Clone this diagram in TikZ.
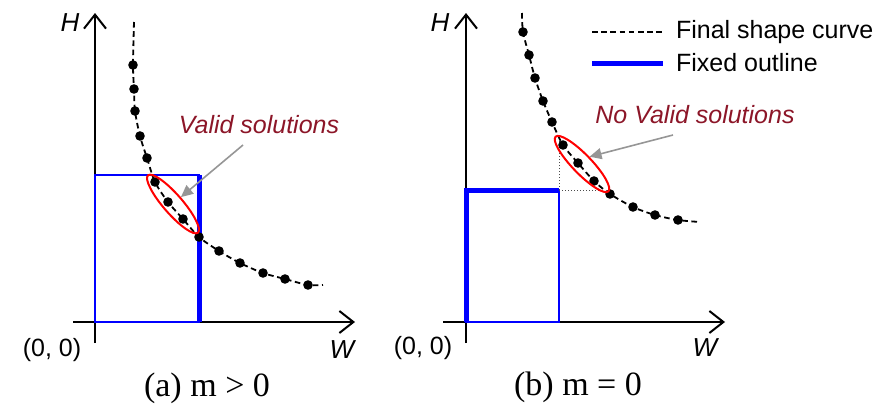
\documentclass[tikz,border=0pt]{standalone}
\usepackage{fontspec}
\setmainfont{Liberation Serif}
\setsansfont{Liberation Sans}
\usetikzlibrary{arrows.meta,shapes.geometric}
\definecolor{solred}{RGB}{140,22,40}
\definecolor{pointgray}{RGB}{150,150,150}
\begin{document}
\begin{tikzpicture}[x=0.5pt,y=0.5pt,
  axis/.style={line width=1pt,-{Straight Barb[length=7pt,width=11pt,line width=1pt]}},
  outline/.style={blue,line width=1.2pt},
  fatoutline/.style={blue,line width=2.5pt},
  shapecurve/.style={line width=0.9pt,dash pattern=on 2.8pt off 1.8pt},
  guide/.style={gray!60!black,line width=0.5pt,densely dotted},
  ring/.style={draw=red,line width=1pt,ellipse,inner sep=0pt,minimum width=38pt,minimum height=9.5pt},
  pointer/.style={pointgray,line width=0.8pt,-{Triangle[length=6pt,width=5.5pt]}},
  lbl/.style={font=\sffamily\fontsize{12.5}{15}\selectfont},
  axlbl/.style={font=\sffamily\itshape\fontsize{13}{15}\selectfont},
  note/.style={font=\sffamily\itshape\fontsize{12.5}{15}\selectfont,text=solred},
  subcap/.style={font=\fontsize{17}{20}\selectfont}]
  \useasboundingbox (0,0) rectangle (879,403);

  % (a) m > 0 : outline cuts the curve, solutions exist.
  \draw[axis] (95,60)--(95,390);
  \draw[axis] (73,81)--(355,81);
  \draw[outline] (95,81) rectangle (199,228);
  \draw[fatoutline] (199,81)--(199,228);
  \node[axlbl] (ha) at (70,380) {H};
  \node[axlbl] (wa) at (342,53) {W};
  \node[lbl] (oa) at (52,53) {(0, 0)};
  \draw[shapecurve] plot[smooth] coordinates
    {(134,381) (133,338) (134,314) (135,292) (140,267) (147,245) (155,221) (168,201)
     (183,184) (199,166) (219,152) (240,140) (263,130) (285,124) (308,118) (323,118)};
  \foreach \p in {(133,338),(134,314),(135,292),(140,267),(147,245),(155,221),(168,201),
                  (183,184),(199,166),(219,152),(240,140),(263,130),(285,124),(308,118)}{
    \fill \p circle (2.4pt);
  }
  \node[ring,rotate=-49] (ella) at (173,199) {};
  \node[note] (vala) at (259,278) {Valid solutions};
  \coordinate (taila) at (243,258);
  \draw[pointer] (taila)--(ella.north);
  \node[subcap] (capa) at (207,15) {(a) m > 0};

  % (b) m = 0 : outline only touches the curve.
  \draw[axis] (466,60)--(466,390);
  \draw[axis] (443,81)--(725,81);
  \draw[outline] (466,81) rectangle (559,213);
  \draw[fatoutline] (466,81)--(466,213)--(559,213);
  \node[axlbl] (hb) at (440,380) {H};
  \node[axlbl] (wb) at (705,55) {W};
  \node[lbl] (ob) at (423,55) {(0, 0)};
  \coordinate (cnr) at (559,213);
  \draw[guide] (cnr)--(559,266);
  \draw[guide] (cnr)--(602,213);
  \draw[shapecurve] plot[smooth] coordinates
    {(522,390) (523,371) (529,348) (535,325) (543,302) (552,281) (563,258) (578,240)
     (594,222) (610,209) (633,196) (655,188) (678,183) (700,181)};
  \foreach \p in {(523,371),(529,348),(535,325),(543,302),(552,281),(563,258),(578,240),
                  (594,222),(610,209),(633,196),(655,188),(678,183)}{
    \fill \p circle (2.4pt);
  }
  \node[ring,rotate=-46] (ellb) at (582,239) {};
  \node[note] (valb) at (695,288) {No Valid solutions};
  \coordinate (tailb) at (673,268);
  \draw[pointer] (tailb)--(ellb.north);
  \node[subcap] (capb) at (578,16) {(b) m = 0};

  % Legend.
  \coordinate (lga) at (592,371);
  \coordinate (lgb) at (592,340);
  \node[lbl,anchor=west] (lgcurve) at (669,371) {Final shape curve};
  \node[lbl,anchor=west] (lgfixed) at (669,340) {Fixed outline};
  \draw[shapecurve,shorten >=3pt] (lga)--(lgcurve.west);
  \draw[fatoutline,shorten >=3pt] (lgb)--(lgfixed.west);
\end{tikzpicture}
\end{document}
